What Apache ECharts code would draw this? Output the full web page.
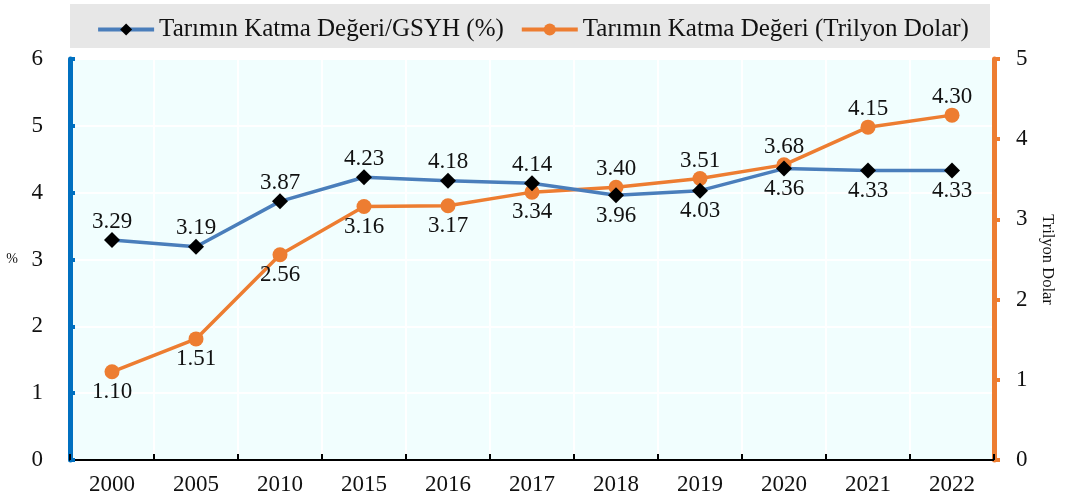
<!DOCTYPE html>
<html><head><meta charset="utf-8">
<script src="https://cdn.jsdelivr.net/npm/echarts@6/dist/echarts.min.js"></script>
<style>html,body{margin:0;padding:0;background:#fff}#c{width:1065px;height:501px}</style>
</head><body><div id="c"></div>
<script>
const categories = ['2000','2005','2010','2015','2016','2017','2018','2019','2020','2021','2022'];
const shareGDP = [3.29,3.19,3.87,4.23,4.18,4.14,3.96,4.03,4.36,4.33,4.33];
const valueTrillion = [1.10,1.51,2.56,3.16,3.17,3.34,3.40,3.51,3.68,4.15,4.30];
const shareLabelPos = ['top','top','top','top','top','top','bottom','bottom','bottom','bottom','bottom'];
const valueLabelPos = ['bottom','bottom','bottom','bottom','bottom','bottom','top','top','top','top','top'];
const seriesNames = ['Tarımın Katma Değeri/GSYH (%)','Tarımın Katma Değeri (Trilyon Dolar)'];

const F = '"Liberation Serif","DejaVu Serif",serif';
const chart = echarts.init(document.getElementById('c'));
function mk(vals, pos){ return vals.map((v,i)=>({value:v,label:{position:pos[i],distance:pos[i]==='top'?-1:1}})); }
chart.setOption({
  animation:false,
  backgroundColor:'#fff',
  graphic:[{type:'rect',shape:{x:70,y:4,width:920,height:44},style:{fill:'#E7E7E7'},z:-1}],
  legend:{top:12,left:'center',itemGap:16,itemWidth:56,itemHeight:15,
    lineStyle:{width:4},
    textStyle:{fontFamily:F,fontSize:25,color:'#111'},data:seriesNames},
  grid:{left:70,right:71,top:59,bottom:41,show:true,backgroundColor:'#F1FEFE',borderColor:'#000',borderWidth:1.5},
  xAxis:{type:'category',data:categories,boundaryGap:true,
    axisLine:{lineStyle:{color:'#000',width:2}},
    axisTick:{show:true,inside:true,length:6,lineStyle:{color:'#000',width:2}},
    axisLabel:{fontFamily:F,fontSize:23,color:'#111',margin:13},
    splitLine:{show:true,interval:0,lineStyle:{color:'#fff',width:2}}},
  yAxis:[
    {type:'value',min:0,max:6,interval:1,position:'left',name:'%',nameLocation:'middle',nameRotate:0,nameGap:52,
     nameTextStyle:{fontFamily:F,fontSize:14,color:'#111'},
     axisLine:{show:true,lineStyle:{color:'#0070C0',width:5}},
     axisTick:{show:true,inside:true,length:5,lineStyle:{color:'#0070C0',width:4}},
     axisLabel:{fontFamily:F,fontSize:23,color:'#111',margin:27},
     splitLine:{show:true,lineStyle:{color:'#fff',width:2}}},
    {type:'value',min:0,max:5,interval:1,position:'right',name:'Trilyon Dolar',nameLocation:'middle',nameRotate:-90,nameGap:42,
     nameTextStyle:{fontFamily:F,fontSize:16.5,color:'#111'},
     axisLine:{show:true,lineStyle:{color:'#ED7D31',width:5}},
     axisTick:{show:true,inside:false,length:6,lineStyle:{color:'#ED7D31',width:4}},
     axisLabel:{fontFamily:F,fontSize:23,color:'#111',margin:22},
     splitLine:{show:false}}
  ],
  series:[
    {name:seriesNames[0],type:'line',yAxisIndex:0,data:mk(shareGDP,shareLabelPos),
     lineStyle:{color:'#4A7EBB',width:3.5},itemStyle:{color:'#000'},symbol:'diamond',symbolSize:16,
     label:{show:true,formatter:p=>p.value.toFixed(2),fontFamily:F,fontSize:23,color:'#111'},z:3},
    {name:seriesNames[1],type:'line',yAxisIndex:1,data:mk(valueTrillion,valueLabelPos),
     lineStyle:{color:'#ED7D31',width:3.5},itemStyle:{color:'#ED7D31'},symbol:'circle',symbolSize:15,
     label:{show:true,formatter:p=>p.value.toFixed(2),fontFamily:F,fontSize:23,color:'#111'},z:2}
  ]
});
</script></body></html>
